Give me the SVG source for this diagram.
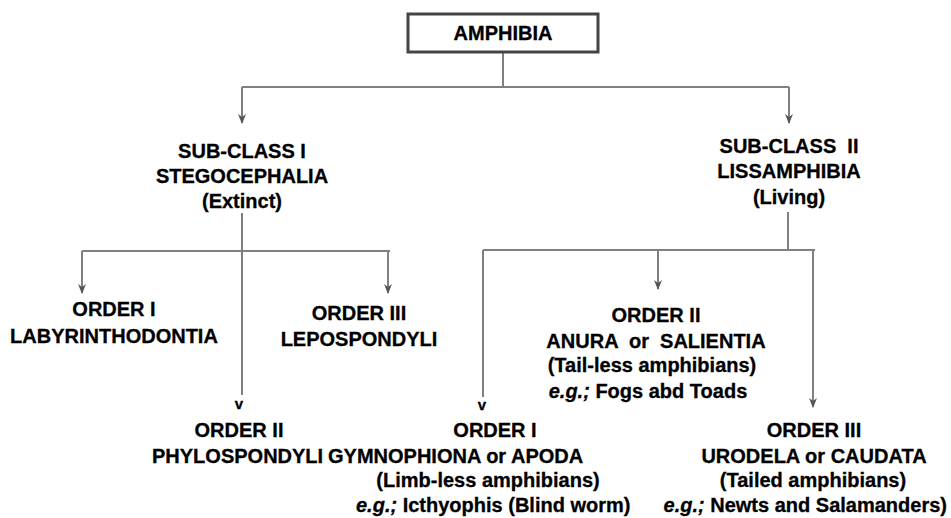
<svg xmlns="http://www.w3.org/2000/svg" width="951" height="518" viewBox="0 0 951 518">
<style>
text{font-family:"Liberation Sans",Arial,sans-serif;font-weight:bold;font-size:20px;fill:#000;stroke:#000;stroke-width:0.3;text-anchor:middle;white-space:pre}
.s{text-anchor:start}
.e{text-anchor:end}
.it{font-style:italic}
.ln{stroke:#808080;stroke-width:2;fill:none}
.ar{marker-end:url(#ah)}
.v{font-size:15px}
</style>
<defs>
<marker id="ah" viewBox="0 0 10 10" refX="9" refY="5" markerWidth="10" markerHeight="10" markerUnits="userSpaceOnUse" orient="auto">
<path d="M0,1 L10,5 L0,9 L3,5 Z" fill="#555"/>
</marker>
</defs>
<rect width="951" height="518" fill="#fff"/>
<g id="connectors">
<path class="ln" d="M503,52 V87 M242,87 H789"/>
<path class="ln ar" d="M242,87 V123"/>
<path class="ln ar" d="M789,87 V123"/>
<path class="ln" d="M242,213 V395 M82,251 H390"/>
<path class="ln ar" d="M82,251 V293"/>
<path class="ln ar" d="M388,251 V293"/>
<path class="ln" d="M788,212 V250 M483,250 H815 M483,250 V397"/>
<path class="ln ar" d="M658,250 V289"/>
<path class="ln ar" d="M813,250 V407"/>
<text class="v" x="239" y="409">v</text>
<text class="v" x="482" y="410">v</text>
</g>
<g id="amphibia">
<rect x="408" y="14" width="190" height="38" fill="#fff" stroke="#444" stroke-width="3"/>
<text x="503" y="40">AMPHIBIA</text>
</g>
<g id="subclass1">
<text x="242" y="158">SUB-CLASS I</text>
<text x="242" y="183">STEGOCEPHALIA</text>
<text x="242" y="208">(Extinct)</text>
</g>
<g id="subclass2">
<text x="789" y="153">SUB-CLASS  II</text>
<text x="789" y="178">LISSAMPHIBIA</text>
<text x="789" y="204">(Living)</text>
</g>
<g id="order1-left">
<text x="114" y="316">ORDER I</text>
<text x="114" y="343">LABYRINTHODONTIA</text>
</g>
<g id="order3-left">
<text x="359" y="320">ORDER III</text>
<text x="359" y="346">LEPOSPONDYLI</text>
</g>
<g id="order2-left">
<text x="239" y="437">ORDER II</text>
<text class="s" x="152" y="463">PHYLOSPONDYLI</text>
</g>
<g id="order1-right">
<text x="495" y="437">ORDER I</text>
<text class="s" x="328" y="463">GYMNOPHIONA or APODA</text>
<text x="488" y="487">(Limb-less amphibians)</text>
<text class="s" x="356" y="512"><tspan class="it">e.g.;</tspan> Icthyophis (Blind worm)</text>
</g>
<g id="order2-right">
<text x="656" y="322">ORDER II</text>
<text x="656" y="348">ANURA  or  SALIENTIA</text>
<text x="652" y="372">(Tail-less amphibians)</text>
<text x="648" y="398"><tspan class="it">e.g.;</tspan> Fogs abd Toads</text>
</g>
<g id="order3-right">
<text x="814" y="437">ORDER III</text>
<text x="814" y="463">URODELA or CAUDATA</text>
<text x="813" y="487">(Tailed amphibians)</text>
<text class="e" x="947" y="512"><tspan class="it">e.g.;</tspan> Newts and Salamanders)</text>
</g>
</svg>
